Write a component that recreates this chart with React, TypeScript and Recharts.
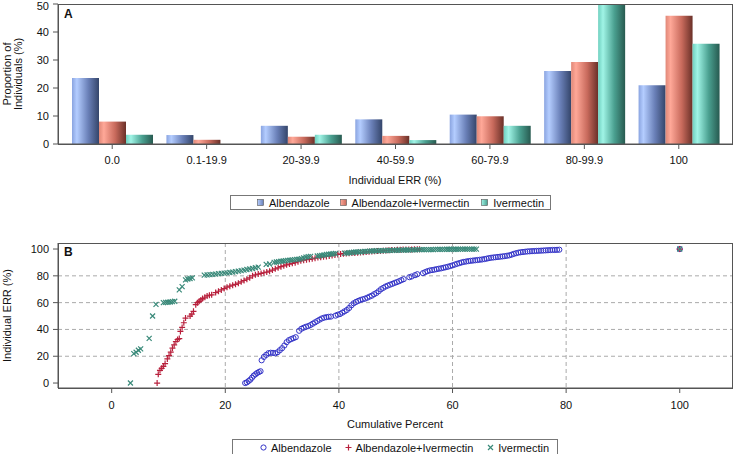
import React from 'react';
import {
  BarChart,
  Bar,
  XAxis,
  YAxis,
  ScatterChart,
  Scatter,
  CartesianGrid,
  Label,
} from 'recharts';

// Panel A: share of individuals per ERR class
const categories = ['0.0', '0.1-19.9', '20-39.9', '40-59.9', '60-79.9', '80-99.9', '100'];
const albendazolePct = [23.6, 3.2, 6.5, 8.8, 10.5, 26.1, 21.0];
const combinedPct = [8.0, 1.5, 2.6, 2.9, 9.9, 29.3, 45.8];
const ivermectinPct = [3.3, 0, 3.3, 1.4, 6.5, 49.6, 35.8];
const pctTicks = [0, 10, 20, 30, 40, 50];

// Panel B: cumulative percent vs individual ERR, [cumulative %, ERR %]
const albendazoleCum: [number, number][] = [
  [23.5, 0], [23.8, 0.5], [24.1, 1.5], [24.4, 2.5], [24.7, 4], [25.0, 5.5], [25.3, 6.5],
  [25.6, 7.5], [25.9, 8.2], [26.2, 8.8], [26.4, 17], [26.8, 19.5], [27.2, 21], [27.6, 22.3],
  [28.0, 22.6], [28.4, 22.5], [28.8, 22.2], [29.2, 23], [29.6, 24.5], [30.0, 26], [30.4, 28],
  [30.8, 30.5], [31.2, 32], [31.6, 32.8], [32.0, 33.5], [32.4, 34.2], [33.0, 39], [33.4, 40.5],
  [33.8, 41.3], [34.2, 42], [34.6, 42.5], [35.0, 43.3], [35.4, 44.3], [35.8, 45.3], [36.2, 46.3],
  [36.6, 47.3], [37.0, 48.2], [37.4, 48.8], [37.8, 49.2], [38.2, 49.4], [38.6, 49.6], [39.4, 50.3],
  [39.8, 51], [40.2, 51.5], [40.6, 52.5], [41.0, 53.5], [41.4, 54.5], [41.8, 56], [42.2, 58],
  [42.6, 59.5], [43.0, 60.5], [43.4, 61.3], [43.8, 62], [44.2, 62.5], [44.6, 63], [45.0, 63.7],
  [45.4, 64.5], [45.8, 65.2], [46.2, 66.3], [46.6, 67.2], [47.0, 68.5], [47.4, 70], [47.8, 71],
  [48.2, 72], [48.6, 72.7], [49.0, 73.4], [49.4, 74], [49.8, 74.7], [50.2, 75.3], [50.6, 76],
  [51.0, 76.8], [51.4, 77.5], [52.4, 79], [52.8, 79.5], [53.4, 80.5], [53.8, 81.2], [54.8, 82],
  [55.2, 82.8], [55.6, 83.5], [56.0, 84], [56.4, 84.3], [56.8, 84.6], [57.2, 85], [57.6, 85.3],
  [58.0, 85.6], [58.4, 86], [58.8, 86.4], [59.2, 86.8], [59.6, 87.3], [60.0, 87.8], [60.4, 88.4],
  [60.8, 89], [61.2, 89.5], [61.6, 90], [62.0, 90.4], [62.4, 90.7], [62.8, 91], [63.2, 91.2],
  [63.6, 91.4], [64.0, 91.6], [64.4, 91.8], [64.8, 92], [65.2, 92.2], [65.6, 92.5], [66.0, 92.8],
  [66.4, 93.2], [66.8, 93.5], [67.2, 93.7], [67.6, 93.9], [68.0, 94.1], [68.4, 94.3], [68.8, 94.5],
  [69.2, 94.7], [69.6, 95], [70.0, 95.3], [70.4, 95.8], [70.8, 96.4], [71.2, 96.9], [71.6, 97.3],
  [72.0, 97.6], [72.4, 97.8], [72.8, 98], [73.2, 98.2], [73.6, 98.3], [74.0, 98.4], [74.4, 98.5],
  [74.8, 98.6], [75.2, 98.7], [75.6, 98.8], [76.0, 98.9], [76.4, 99], [76.8, 99.1], [77.2, 99.2],
  [77.6, 99.3], [78.0, 99.3], [78.4, 99.4], [78.8, 99.5], [100, 100],
];

const combinedCum: [number, number][] = [
  [8.0, 0], [8.2, 6.5], [8.5, 9.5], [8.8, 11], [9.1, 12.5], [9.4, 14.5], [9.8, 18], [10.1, 20.5],
  [10.4, 23], [10.7, 26], [11.0, 28.5], [11.3, 31], [11.6, 32.5], [11.9, 33.2], [12.1, 38.5],
  [12.4, 41.5], [12.7, 45], [13.0, 48.5], [13.8, 50], [14.1, 51.5], [14.4, 53.5], [14.8, 58.5],
  [15.1, 60], [15.4, 61], [15.7, 62], [16.0, 63], [16.4, 64], [16.8, 65], [17.2, 65.5],
  [17.6, 65.8], [18.3, 67.5], [18.8, 68.5], [19.3, 69.5], [19.8, 70.5], [20.3, 71.5], [20.8, 72.3],
  [21.3, 73], [21.8, 73.7], [22.3, 74.5], [22.8, 75.5], [23.3, 76.5], [23.8, 77.5], [24.3, 78.5],
  [24.8, 80], [25.3, 80.8], [25.8, 81.3], [26.3, 81.8], [26.8, 82.3], [27.3, 82.8], [27.8, 83.5],
  [28.3, 84.3], [28.8, 85.2], [29.3, 86], [29.8, 86.8], [30.3, 87.5], [30.8, 88.2], [31.3, 88.8],
  [31.8, 89.3], [32.3, 89.8], [32.8, 90.5], [33.3, 91.2], [33.8, 91.7], [34.3, 92], [34.8, 92.3],
  [35.3, 92.7], [35.8, 93.2], [36.3, 93.6], [36.8, 93.9], [37.3, 94.2], [37.8, 94.5], [38.3, 94.8],
  [38.8, 95.2], [39.3, 95.6], [39.8, 96], [40.3, 96.3], [40.8, 96.5], [41.3, 96.7], [41.8, 96.8],
  [42.3, 97], [42.8, 97.1], [43.3, 97.2], [43.8, 97.4], [44.3, 97.6], [44.8, 97.8], [45.3, 98],
  [45.8, 98.2], [46.3, 98.4], [46.8, 98.5], [47.3, 98.6], [47.8, 98.8], [48.3, 98.9], [48.8, 99],
  [49.3, 99.2], [49.8, 99.3], [50.3, 99.4], [50.8, 99.5], [51.3, 99.6], [51.8, 99.6], [52.3, 99.7],
  [52.8, 99.7], [53.3, 99.8], [53.8, 99.8], [54.2, 99.9], [100, 100],
];

const ivermectinCum: [number, number][] = [
  [3.3, 0], [3.9, 22], [4.3, 23], [4.7, 24.5], [5.1, 25.5], [6.6, 33.3], [7.2, 50], [7.8, 58.7],
  [9.1, 60], [9.5, 60.2], [9.9, 60.3], [10.3, 60.5], [10.7, 60.7], [11.1, 61], [11.9, 69.5],
  [12.4, 72], [13.0, 77], [13.4, 77.6], [13.8, 78], [14.2, 78.5], [16.3, 80.5], [16.8, 80.7],
  [17.3, 80.9], [17.8, 81.1], [18.3, 81.3], [18.8, 81.6], [19.3, 81.8], [19.8, 82], [20.3, 82.2],
  [20.8, 82.5], [21.3, 82.8], [21.8, 83.1], [22.3, 83.5], [22.8, 83.9], [23.3, 84.3], [23.8, 84.7],
  [24.3, 85.1], [24.8, 85.5], [25.3, 86], [25.8, 86.5], [27.2, 88.5], [27.8, 88.8], [28.6, 90],
  [29.0, 90.3], [29.4, 90.6], [29.8, 90.9], [30.2, 91.1], [30.6, 91.3], [31.0, 91.5], [31.4, 91.7],
  [31.8, 91.9], [32.2, 92.1], [32.6, 92.3], [33.0, 92.5], [33.4, 92.8], [33.8, 93.4], [34.2, 94],
  [34.6, 94.3], [35.0, 94.5], [36.2, 94.8], [36.6, 95], [37.0, 95.3], [37.4, 95.6], [37.8, 95.9],
  [38.2, 96.1], [38.6, 96.3], [39.0, 96.5], [39.4, 96.7], [41.0, 96.9], [41.4, 97], [41.8, 97.2],
  [42.2, 97.4], [42.6, 97.6], [43.0, 97.8], [43.4, 97.9], [43.8, 98], [44.2, 98.1], [44.6, 98.2],
  [45.0, 98.3], [45.4, 98.4], [45.8, 98.5], [46.2, 98.6], [46.6, 98.7], [47.0, 98.7], [47.4, 98.8],
  [47.8, 98.8], [48.2, 98.9], [48.6, 98.9], [49.0, 99], [49.4, 99], [49.8, 99.1], [50.2, 99.1],
  [50.6, 99.2], [51.0, 99.2], [51.4, 99.3], [51.8, 99.3], [52.2, 99.3], [52.6, 99.4], [53.0, 99.4],
  [53.4, 99.4], [53.8, 99.5], [54.2, 99.5], [54.6, 99.5], [55.0, 99.5], [55.4, 99.6], [55.8, 99.6],
  [56.2, 99.6], [56.6, 99.6], [57.0, 99.7], [57.4, 99.7], [57.8, 99.7], [58.2, 99.7], [58.6, 99.7],
  [59.0, 99.8], [59.4, 99.8], [59.8, 99.8], [60.2, 99.8], [60.6, 99.8], [61.0, 99.8], [61.4, 99.9],
  [61.8, 99.9], [62.2, 99.9], [62.6, 99.9], [63.0, 99.9], [63.4, 99.9], [63.8, 99.9], [64.2, 99.9],
  [100, 100],
];
const cumTicks = [0, 20, 40, 60, 80, 100];
const errTicks = [0, 20, 40, 60, 80, 100];
const gridValues = [20, 40, 60, 80];

const FONT = '"Liberation Sans", Arial, sans-serif';
const AXIS = '#555';
const BLUE = '#3535c8';
const RED = '#b8203c';
const TEAL = '#3a8a7a';

const barData = categories.map((cat, i) => ({
  cat,
  alb: albendazolePct[i],
  comb: combinedPct[i],
  iver: ivermectinPct[i],
}));

const toPoints = (arr: [number, number][]) => arr.map(([x, y]) => ({ x, y }));

const tickStyle = { fontSize: 11, fill: '#111', fontFamily: FONT };

const ProportionTitle = (props: any) => {
  const vb = props.viewBox || { y: 4, height: 140 };
  const cy = vb.y + vb.height / 2;
  return (
    <text
      transform={`translate(0, ${cy}) rotate(-90)`}
      textAnchor="middle"
      fontSize={11}
      fontFamily={FONT}
      fill="#111"
    >
      <tspan x={0} y={10.5}>Proportion of</tspan>
      <tspan x={0} y={21.5}>Individuals (%)</tspan>
    </text>
  );
};

const ErrTitle = (props: any) => {
  const vb = props.viewBox || { y: 13, height: 145 };
  const cy = vb.y + vb.height / 2;
  return (
    <text
      transform={`translate(0, ${cy}) rotate(-90)`}
      textAnchor="middle"
      fontSize={11}
      fontFamily={FONT}
      fill="#111"
    >
      <tspan x={0} y={11}>Individual ERR (%)</tspan>
    </text>
  );
};

const CircleMark = (props: any) => (
  <circle cx={props.cx} cy={props.cy} r={2.6} fill="none" stroke={BLUE} strokeWidth={1} />
);
const PlusMark = (props: any) => (
  <path
    d={`M${props.cx - 3},${props.cy}h6M${props.cx},${props.cy - 3}v6`}
    stroke={RED}
    strokeWidth={1.2}
    fill="none"
  />
);
const CrossMark = (props: any) => (
  <path
    d={`M${props.cx - 2.5},${props.cy - 2.5}l5,5M${props.cx - 2.5},${props.cy + 2.5}l5,-5`}
    stroke={TEAL}
    strokeWidth={1.2}
    fill="none"
  />
);

const gradients = [
  { id: 'gAlb', stops: ['#8aa4e0', '#b4cdff', '#6a80b8', '#34456a'] },
  { id: 'gComb', stops: ['#e08878', '#ffa898', '#c86a5c', '#6a3028'] },
  { id: 'gIver', stops: ['#70d0c0', '#a0f4e6', '#4aa090', '#275a50'] },
];

const Swatch = ({ grad }: { grad: string }) => (
  <svg width={7} height={7} style={{ marginRight: 5 }}>
    <rect x={0.5} y={0.5} width={6} height={6} fill={grad} stroke="#555" strokeWidth={0.6} />
  </svg>
);

const MarkerIcon = ({ kind }: { kind: string }) => (
  <svg width={9} height={9} style={{ marginRight: 3 }}>
    {kind === 'circle' && <circle cx={4.5} cy={4.5} r={2.6} fill="none" stroke={BLUE} />}
    {kind === 'plus' && <path d="M1.5,4.5h6M4.5,1.5v6" stroke={RED} strokeWidth={1.2} />}
    {kind === 'cross' && <path d="M2,2l5,5M2,7l5,-5" stroke={TEAL} strokeWidth={1.2} />}
  </svg>
);

const legendBox: React.CSSProperties = {
  position: 'absolute',
  border: '1px solid #777',
  display: 'flex',
  alignItems: 'center',
  fontFamily: FONT,
  fontSize: 11,
  color: '#111',
  boxSizing: 'border-box',
  whiteSpace: 'nowrap',
};

const panelLetter: React.CSSProperties = {
  position: 'absolute',
  fontFamily: FONT,
  fontSize: 12,
  fontWeight: 'bold',
  color: '#111',
  lineHeight: '12px',
};

const frame: React.CSSProperties = {
  position: 'absolute',
  border: `1px solid ${AXIS}`,
  boxSizing: 'border-box',
  pointerEvents: 'none',
};

export default function App() {
  return (
    <div
      style={{
        position: 'absolute',
        left: 0,
        top: 0,
        width: 733,
        height: 454,
        background: '#fff',
        overflow: 'hidden',
      }}
    >
      <div style={{ position: 'absolute', left: 0, top: 0 }}>
        <BarChart
          width={733}
          height={190}
          data={barData}
          margin={{ top: 4, right: 1, bottom: 0, left: 0 }}
          barCategoryGap={7}
          barGap={0}
        >
          <defs>
            {gradients.map((g) => (
              <linearGradient key={g.id} id={g.id} x1="0" y1="0" x2="1" y2="0">
                <stop offset="0%" stopColor={g.stops[0]} />
                <stop offset="18%" stopColor={g.stops[1]} />
                <stop offset="60%" stopColor={g.stops[2]} />
                <stop offset="100%" stopColor={g.stops[3]} />
              </linearGradient>
            ))}
          </defs>
          <XAxis
            dataKey="cat"
            height={46}
            padding={{ left: 7, right: 6 }}
            stroke={AXIS}
            tickSize={5}
            tickMargin={7}
            tick={tickStyle}
          >
            <Label
              value="Individual ERR (%)"
              position="insideBottom"
              offset={6}
              style={{ fontSize: 11, fill: '#111', fontFamily: FONT }}
            />
          </XAxis>
          <YAxis
            domain={[0, 50]}
            ticks={pctTicks}
            width={58}
            stroke={AXIS}
            tickSize={5}
            tickMargin={4}
            tick={tickStyle}
            label={<ProportionTitle />}
          />
          <Bar dataKey="alb" name="Albendazole" fill="url(#gAlb)" isAnimationActive={false} />
          <Bar dataKey="comb" name="Albendazole+Ivermectin" fill="url(#gComb)" isAnimationActive={false} />
          <Bar dataKey="iver" name="Ivermectin" fill="url(#gIver)" isAnimationActive={false} />
        </BarChart>
      </div>
      <div style={{ ...frame, left: 58, top: 4, width: 675, height: 141 }} />
      <div style={{ ...panelLetter, left: 64, top: 8 }}>A</div>

      <div style={{ ...legendBox, left: 230, top: 195, width: 321, height: 15, paddingLeft: 26 }}>
        <svg width={0} height={0} style={{ position: 'absolute' }}>
          <defs>
            {gradients.map((g) => (
              <linearGradient key={g.id} id={g.id + 'L'} x1="0" y1="0" x2="1" y2="0">
                <stop offset="0%" stopColor={g.stops[1]} />
                <stop offset="100%" stopColor={g.stops[2]} />
              </linearGradient>
            ))}
          </defs>
        </svg>
        <Swatch grad="url(#gAlbL)" />
        <span style={{ marginRight: 10 }}>Albendazole</span>
        <Swatch grad="url(#gCombL)" />
        <span style={{ marginRight: 12 }}>Albendazole+Ivermectin</span>
        <Swatch grad="url(#gIverL)" />
        <span>Ivermectin</span>
      </div>

      <div style={{ position: 'absolute', left: 0, top: 230 }}>
        <ScatterChart width={733} height={210} margin={{ top: 13, right: 1, bottom: 0, left: 0 }}>
          <CartesianGrid
            stroke="#aaa"
            strokeDasharray="4 3"
            horizontalValues={gridValues}
            verticalValues={gridValues}
          />
          <XAxis
            type="number"
            dataKey="x"
            domain={[-9.45, 109.2]}
            allowDataOverflow
            ticks={cumTicks}
            height={52}
            stroke={AXIS}
            tickSize={5}
            tickMargin={8}
            tick={tickStyle}
          >
            <Label
              value="Cumulative Percent"
              position="insideBottom"
              offset={12}
              style={{ fontSize: 11, fill: '#111', fontFamily: FONT }}
            />
          </XAxis>
          <YAxis
            type="number"
            dataKey="y"
            domain={[-3.7, 104.5]}
            allowDataOverflow
            ticks={errTicks}
            width={58}
            stroke={AXIS}
            tickSize={5}
            tickMargin={4}
            tick={tickStyle}
            label={<ErrTitle />}
          />
          <Scatter name="Albendazole" data={toPoints(albendazoleCum)} shape={<CircleMark />} isAnimationActive={false} />
          <Scatter name="Albendazole+Ivermectin" data={toPoints(combinedCum)} shape={<PlusMark />} isAnimationActive={false} />
          <Scatter name="Ivermectin" data={toPoints(ivermectinCum)} shape={<CrossMark />} isAnimationActive={false} />
        </ScatterChart>
      </div>
      <div style={{ ...frame, left: 58, top: 243, width: 675, height: 146 }} />
      <div style={{ ...panelLetter, left: 64, top: 246 }}>B</div>

      <div style={{ ...legendBox, left: 232, top: 439, width: 326, height: 17, paddingLeft: 26 }}>
        <MarkerIcon kind="circle" />
        <span style={{ marginRight: 12 }}>Albendazole</span>
        <MarkerIcon kind="plus" />
        <span style={{ marginRight: 13 }}>Albendazole+Ivermectin</span>
        <MarkerIcon kind="cross" />
        <span>Ivermectin</span>
      </div>
    </div>
  );
}
